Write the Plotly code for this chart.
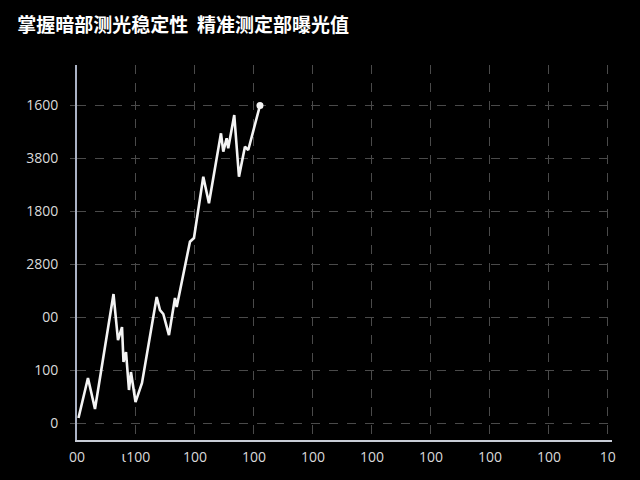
import plotly.graph_objects as go

# data (in axis units)
x_vals = [0.025, 0.186, 0.305, 0.619, 0.695, 0.763, 0.788, 0.831, 0.881, 0.915, 0.992,
          1.102, 1.351, 1.407, 1.463, 1.559, 1.661, 1.690, 1.915, 1.983, 2.141, 2.237,
          2.441, 2.480, 2.537, 2.564, 2.666, 2.746, 2.847, 2.903, 3.102]
y_vals = [0.094, 0.849, 0.264, 2.434, 1.566, 1.811, 1.151, 1.340, 0.623, 0.962, 0.396,
          0.755, 2.377, 2.132, 2.057, 1.660, 2.358, 2.189, 3.421, 3.491, 4.647, 4.145,
          5.466, 5.119, 5.372, 5.183, 5.811, 4.647, 5.213, 5.151, 5.991]

x_tick_vals = [0, 1, 2, 3, 4, 5, 6, 7, 8, 9]
x_tick_text = ["00", "ɩ100", "100", "100", "100", "100", "100", "100", "100", "10"]
y_tick_vals = [0, 1, 2, 3, 4, 5, 6]
y_tick_text = ["0", "100", "00", "2800", "1800", "3800", "1600"]

title_text = "掌握暗部测光稳定性  精准测定部曝光值"

fig = go.Figure()
fig.add_trace(go.Scatter(
    x=x_vals, y=y_vals, mode="lines",
    line=dict(color="#f4f4f4", width=2.6),
    hoverinfo="skip", showlegend=False,
))
fig.add_trace(go.Scatter(
    x=[x_vals[-1]], y=[y_vals[-1]], mode="markers",
    marker=dict(color="#f4f4f4", size=7),
    hoverinfo="skip", showlegend=False,
))

axis_font = dict(family="Open Sans, DejaVu Sans, sans-serif", size=14, color="#dadada")
fig.update_layout(
    width=640, height=480,
    paper_bgcolor="#000000", plot_bgcolor="#000000",
    margin=dict(l=77, r=28, t=65, b=40),
    title=dict(text=title_text, x=0.027, xanchor="left", y=0.948, yanchor="middle",
               xref="container", yref="container",
               font=dict(family="Noto Sans CJK SC", size=19, color="#ffffff", weight=700)),
    xaxis=dict(
        range=[0, 9.07], tickvals=x_tick_vals, ticktext=x_tick_text,
        showline=True, linecolor="#c8ccd6", linewidth=2,
        showgrid=True, gridcolor="#4a4a4a", griddash="dash", gridwidth=1,
        zeroline=False, ticks="", tickfont=axis_font, ticklabelstandoff=3,
    ),
    yaxis=dict(
        range=[-0.32, 6.755], tickvals=y_tick_vals, ticktext=y_tick_text,
        showline=True, linecolor="#aab2c4", linewidth=2,
        showgrid=True, gridcolor="#4a4a4a", griddash="dash", gridwidth=1,
        zeroline=False, ticks="outside", ticklen=5, tickcolor="#4a4a4a",
        tickfont=axis_font, ticklabelstandoff=9,
    ),
)
fig.write_html(
    "out.html",
    config={"displayModeBar": False},
    post_script="document.body.style.margin='0';document.body.style.background='#000';",
)
